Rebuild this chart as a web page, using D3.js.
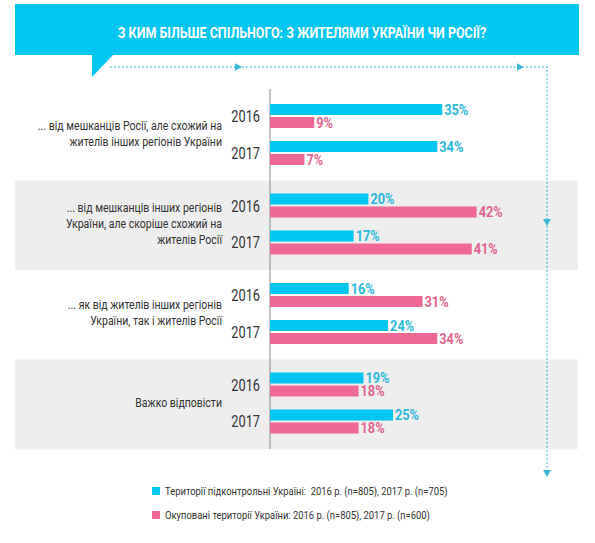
<!DOCTYPE html>
<html><head><meta charset="utf-8">
<script src="https://cdn.jsdelivr.net/npm/d3@7"></script>
<style>
html,body{margin:0;padding:0;background:#fff;}
svg{display:block;font-family:Roboto,"Noto Sans",sans-serif;}
text{white-space:pre;}
</style></head>
<body>
<svg id="c" width="595" height="543"></svg>
<script>
const title = "З КИМ БІЛЬШЕ СПІЛЬНОГО: З ЖИТЕЛЯМИ УКРАЇНИ ЧИ РОСІЇ?";
const categories = [
  ["... від мешканців Росії, але схожий на", "жителів інших регіонів України"],
  ["... від мешканців інших регіонів", "України, але скоріше схожий на", "жителів Росії"],
  ["... як від жителів інших регіонів", "України, так і жителів Росії"],
  ["Важко відповісти"]
];
const years = ["2016", "2017"];
const controlled2016 = [35, 20, 16, 19];
const controlled2017 = [34, 17, 24, 25];
const occupied2016 = [9, 42, 31, 18];
const occupied2017 = [7, 41, 34, 18];
const legendLabels = [
  "Території підконтрольні Україні:  2016 р. (n=805), 2017 р. (n=705)",
  "Окуповані території України: 2016 р. (n=805), 2017 р. (n=600)"
];

const CYAN = "#00c6f1", PINK = "#f06896";
const CYAN_T = "#2bb8dc", PINK_T = "#e2648f";

const svg = d3.select("#c");

function ctext(g, str, x, y, sx, attrs) {
  const t = g.append("text").text(str)
    .attr("transform", `translate(${x},${y}) scale(${sx},1)`);
  for (const k in attrs) t.attr(k, attrs[k]);
  return t;
}

const x = d3.scaleLinear().domain([0, 50]).range([270, 516]);
const gy = d3.scaleBand().domain(d3.range(categories.length)).range([91, 449]).padding(0);
const gH = gy.bandwidth();

svg.selectAll("rect.bg").data(d3.range(categories.length)).join("rect")
  .attr("class", "bg")
  .attr("x", 15).attr("width", 563)
  .attr("y", d => gy(d)).attr("height", gH)
  .attr("fill", d => d % 2 ? "#eeeeee" : "#ffffff");

svg.append("rect").attr("x", 15).attr("y", 4).attr("width", 564).attr("height", 51).attr("fill", CYAN);
svg.append("path").attr("d", "M92,54 L114,54 L92,77 Z").attr("fill", CYAN);
const tt = svg.append("text").text(title)
  .attr("font-weight", 700).attr("font-size", 14.5).attr("fill", "#fff")
  .attr("text-anchor", "middle");
const tw = tt.node().getComputedTextLength();
tt.attr("transform", `translate(302,37.5) scale(${369 / tw},1)`);

const DOT = "#3ab7d9";
svg.append("path").attr("d", "M110,67 H547 V472")
  .attr("fill", "none").attr("stroke", DOT).attr("stroke-width", 1.4)
  .attr("stroke-dasharray", "1.4,2.6");
const arrows = [
  {px: 238, py: 67, dir: "r"}, {px: 520, py: 67, dir: "r"},
  {px: 547, py: 223, dir: "d"}, {px: 547, py: 474, dir: "d"}
];
svg.selectAll("path.arr").data(arrows).join("path").attr("class", "arr")
  .attr("fill", DOT)
  .attr("d", a => a.dir === "r"
    ? `M${a.px - 3},${a.py - 3.8} L${a.px + 4},${a.py} L${a.px - 3},${a.py + 3.8} Z`
    : `M${a.px - 4},${a.py - 4} L${a.px + 4},${a.py - 4} L${a.px},${a.py + 3} Z`);

svg.append("line").attr("x1", 270).attr("x2", 270).attr("y1", 89).attr("y2", 449)
  .attr("stroke", "#8a8a8a").attr("stroke-width", 1);

const rows = [];
categories.forEach((c, i) => {
  const g0 = gy(i);
  [[controlled2016[i], occupied2016[i]], [controlled2017[i], occupied2017[i]]].forEach((pair, j) => {
    const top = g0 + 13 + j * 37;
    rows.push({v: pair[0], y: top, fill: CYAN, tc: CYAN_T});
    rows.push({v: pair[1], y: top + 13, fill: PINK, tc: PINK_T});
  });
});
const BH = 11;
svg.selectAll("rect.bar").data(rows).join("rect").attr("class", "bar")
  .attr("x", x(0)).attr("y", d => d.y).attr("height", BH)
  .attr("width", d => x(d.v) - x(0)).attr("fill", d => d.fill);
const lg = svg.append("g").attr("font-weight", 700).attr("font-size", 14.5);
rows.forEach(d => {
  ctext(lg, d.v + "%", x(d.v) + 2, d.y + BH - 0.5, 0.88, {fill: d.tc});
});

const yg = svg.append("g").attr("font-size", 16).attr("fill", "#333").attr("text-anchor", "end");
categories.forEach((c, i) => {
  years.forEach((yr, j) => {
    ctext(yg, yr, 260, gy(i) + 31 + j * 36.5, 0.8, {});
  });
});

const cg = svg.append("g").attr("font-size", 13).attr("fill", "#333").attr("text-anchor", "end");
categories.forEach((lines, i) => {
  const cy = gy(i) + gH / 2 - 2;
  lines.forEach((ln, k) => {
    ctext(cg, ln, 222, cy - (lines.length - 1) * 8 + k * 16 + 4.5, 0.81, {});
  });
});

const leg = svg.append("g");
legendLabels.forEach((lbl, i) => {
  const yy = 487 + i * 24;
  leg.append("rect").attr("x", 152).attr("y", yy).attr("width", 8).attr("height", 8)
    .attr("fill", i ? PINK : CYAN);
  ctext(leg, lbl, 165, yy + 8, 0.82, {"font-size": 11.5, fill: "#333"});
});
</script>
</body></html>
